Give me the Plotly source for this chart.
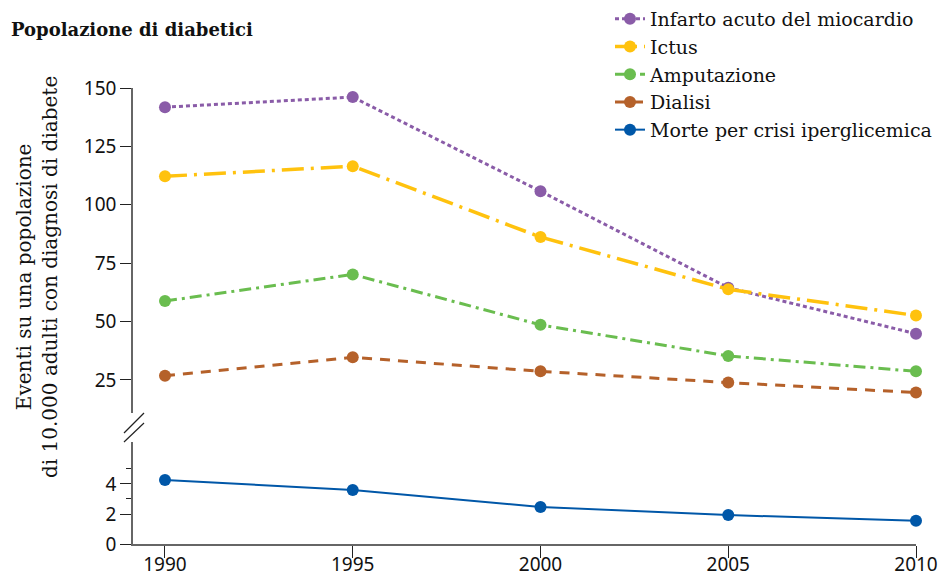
import plotly.graph_objects as go

years = [1990, 1995, 2000, 2005, 2010]
infarto = [141.8, 146.1, 105.8, 64.5, 44.8]
ictus = [112.2, 116.5, 86.2, 63.8, 52.6]
amputazione = [58.8, 70.2, 48.6, 35.3, 28.7]
dialisi = [26.8, 34.7, 28.7, 23.9, 19.6]
morte = [4.27, 3.6, 2.47, 1.93, 1.55]

upper_ticks = [25, 50, 75, 100, 125, 150]
lower_ticks = [0, 2, 4]
lower_minor = [3, 5]

serif = "DejaVu Serif"
sans = "Noto Sans"

fig = go.Figure()

series = [
    ("Infarto acuto del miocardio", infarto, "#8a5ca8", "4px,3px", 3, "y"),
    ("Ictus", ictus, "#ffc20e", "22px,7px,3px,7px", 3.5, "y"),
    ("Amputazione", amputazione, "#6abd4f", "12px,5px,3px,5px", 3, "y"),
    ("Dialisi", dialisi, "#b5612a", "10px,8px", 3, "y"),
    ("Morte per crisi iperglicemica", morte, "#0057a8", "solid", 2, "y2"),
]
for name, vals, col, dash, w, ax in series:
    fig.add_trace(go.Scatter(
        x=years, y=vals, name=name, yaxis=ax, xaxis="x",
        mode="lines+markers",
        line=dict(color=col, dash=dash, width=w),
        marker=dict(color=col, size=12),
        cliponaxis=False,
    ))

# page has an 8px body margin: screen pixel = figure pixel + 8
axcol = "#666666"
fig.update_layout(
    width=943, height=569,
    margin=dict(l=125, r=35, t=80, b=33, autoexpand=False),
    plot_bgcolor="white", paper_bgcolor="white",
    showlegend=True,
    legend=dict(
        x=(610 - 133) / 783, y=(544 - 0) / 456, xanchor="left", yanchor="top",
        font=dict(family=serif, size=19, color="#111111"),
        bgcolor="rgba(0,0,0,0)", tracegroupgap=0,
    ),
    xaxis=dict(
        domain=[0, 1], anchor="y2", range=[1989.148, 2010],
        tickvals=years, ticks="outside", ticklen=12, tickcolor="#222222",
        ticklabelstandoff=-10,
        showline=True, linecolor=axcol, linewidth=1.5,
        showgrid=False, zeroline=False,
        tickfont=dict(family=sans, size=19, color="#111111"),
    ),
    yaxis=dict(
        domain=[0.2873, 1], anchor="x", range=[10.87, 150],
        tickvals=upper_ticks, ticks="outside", ticklen=11, tickcolor="#222222",
        showline=True, linecolor=axcol, linewidth=1.5,
        showgrid=False, zeroline=False,
        tickfont=dict(family=sans, size=19, color="#111111"),
    ),
    yaxis2=dict(
        domain=[0, 0.2237], anchor="x", range=[0, 6.8],
        tickvals=lower_ticks, ticks="outside", ticklen=11, tickcolor="#222222",
        minor=dict(tickvals=lower_minor, ticks="outside", ticklen=5, tickcolor="#222222"),
        showline=True, linecolor=axcol, linewidth=1.5,
        showgrid=False, zeroline=False,
        tickfont=dict(family=sans, size=19, color="#111111"),
    ),
)

# axis break marks
for y0, y1 in [(442, 423), (433, 413)]:
    fig.add_shape(type="line", xref="paper", yref="paper",
                  x0=(124 - 133) / 783, x1=(144 - 133) / 783,
                  y0=(544 - y0) / 456, y1=(544 - y1) / 456,
                  line=dict(color="#222222", width=1.2))

fig.add_annotation(
    text="<b>Popolazione di diabetici</b>", xref="paper", yref="paper",
    x=(9 - 133) / 783, y=(544 - 30) / 456, xanchor="left", yanchor="middle",
    showarrow=False, font=dict(family=serif, size=18, color="#111111"),
)
fig.add_annotation(
    text="Eventi su una popolazione<br>di 10.000 adulti con diagnosi di diabete",
    xref="paper", yref="paper",
    x=(37 - 133) / 783, y=(544 - 277) / 456, xanchor="center", yanchor="middle",
    textangle=-90, showarrow=False,
    font=dict(family=serif, size=20, color="#111111"),
)

fig.write_html("out.html")
